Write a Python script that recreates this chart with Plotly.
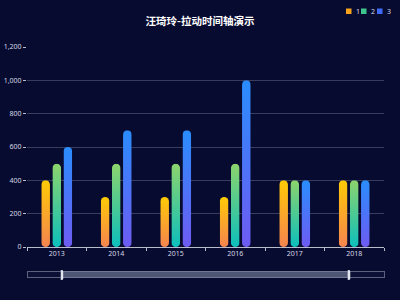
import plotly.graph_objects as go

categories = ["2013", "2014", "2015", "2016", "2017", "2018"]
series_names = ["1", "2", "3"]
s1 = [400, 300, 300, 300, 400, 400]
s2 = [500, 500, 500, 500, 400, 400]
s3 = [600, 700, 700, 1000, 400, 400]
y_ticks = [0, 200, 400, 600, 800, 1000, 1200]

legend_colors = ["#F7A21B", "#3EC58E", "#3F6CF5"]
grad_colors = [["#FFCB05", "#F5844F"], ["#8CD46C", "#0DBFBC"], ["#2A8DFD", "#6E5BF2"]]

BG = "#080B30"
TXT = "#D6D9E6"

W, H = 400, 300
ML, MR, MT, MB = 27, 16, 47, 53
PW, PH = W - ML - MR, H - MT - MB

fig = go.Figure()
for name, vals, col in zip(series_names, [s1, s2, s3], legend_colors):
    fig.add_trace(go.Bar(x=categories, y=vals, name=name, showlegend=False,
                         marker=dict(color=col, line=dict(width=0)),
                         hoverinfo="skip"))

# compact legend (top-right)
leg_x0 = [346, 361, 377]
for i, (name, col) in enumerate(zip(series_names, legend_colors)):
    x0 = (leg_x0[i] - ML) / PW
    x1 = (leg_x0[i] + 5.5 - ML) / PW
    y0 = 1 + (MT - 14) / PH
    y1 = 1 + (MT - 8.5) / PH
    fig.add_shape(type="rect", xref="paper", yref="paper", x0=x0, x1=x1, y0=y0, y1=y1,
                  fillcolor=col, line=dict(width=0))
    fig.add_annotation(text=name, xref="paper", yref="paper", x=x1 + 2 / PW,
                       y=1 + (MT - 11.3) / PH, xanchor="left", yanchor="middle",
                       showarrow=False, font=dict(size=7, color=TXT))

fig.update_layout(
    width=W, height=H,
    paper_bgcolor=BG, plot_bgcolor=BG,
    margin=dict(l=ML, r=MR, t=MT, b=MB, autoexpand=False),
    bargap=0.44, bargroupgap=0.22,
    font=dict(family="Noto Sans, Noto Sans CJK SC, sans-serif", size=7, color=TXT),
    title=dict(text="<b>汪琦玲-拉动时间轴演示</b>", x=0.5, xanchor="center",
               y=0.93, yanchor="middle", yref="container",
               font=dict(size=10.5, color="#FFFFFF", family="Noto Sans CJK SC, sans-serif")),
    showlegend=False,
)
fig.update_xaxes(
    type="category", range=[-0.5, 5.5],
    showline=True, linecolor="#B8BCCB", linewidth=1,
    ticks="outside", tickson="boundaries", ticklen=3, tickcolor="#B8BCCB",
    showgrid=False, tickfont=dict(size=7, color=TXT),
    rangeslider=dict(visible=True, thickness=0.033, range=[-1.24, 6.26],
                     bgcolor="#0B1034", bordercolor="#5B627E", borderwidth=1),
)
fig.update_yaxes(
    range=[0, 1200], tickvals=y_ticks, tickformat=",d",
    showgrid=True, gridcolor="#383D5E", gridwidth=1,
    zeroline=False, showline=False,
    ticks="outside", ticklen=3, tickcolor="#B8BCCB",
    tickfont=dict(size=7, color=TXT),
)

grads_js = str(grad_colors).replace("'", '"')
post = """
var gd = document.getElementById('{plot_id}');
var GR = %s;
(function(){
  var NS='http://www.w3.org/2000/svg';
  var hs = document.createElementNS(NS,'svg');
  hs.setAttribute('width','0'); hs.setAttribute('height','0');
  hs.style.position='absolute'; hs.style.left='0'; hs.style.top='0';
  var defs = document.createElementNS(NS,'defs');
  var css = '';
  GR.forEach(function(g,i){
    var lg=document.createElementNS(NS,'linearGradient');
    lg.setAttribute('id','bgrad'+i);
    lg.setAttribute('x1','0');lg.setAttribute('y1','0');
    lg.setAttribute('x2','0');lg.setAttribute('y2','1');
    var s1=document.createElementNS(NS,'stop');s1.setAttribute('offset','0');s1.setAttribute('stop-color',g[0]);
    var s2=document.createElementNS(NS,'stop');s2.setAttribute('offset','1');s2.setAttribute('stop-color',g[1]);
    lg.appendChild(s1);lg.appendChild(s2);defs.appendChild(lg);
    css += '.cartesianlayer .barlayer .trace:nth-child('+(i+1)+') path{fill:url(#bgrad'+i+') !important;}';
  });
  hs.appendChild(defs);
  document.body.appendChild(hs);
  css += '.cartesianlayer .barlayer .trace path{clip-path:inset(0 round 4.5px);}';
  css += '.rangeslider-rangeplot{display:none !important;}';
  css += '[class*="rangeslider-mask"]{fill:rgba(0,0,0,0) !important;}';
  css += '.rangeslider-slidebox{fill:#4E5676 !important;fill-opacity:1 !important;stroke:#8A90A8 !important;stroke-width:0.6px !important;}';
  css += '.rangeslider-handle-min,.rangeslider-handle-max{x:1px !important;width:2.5px !important;y:-1.5px !important;height:10px !important;fill:#E2E5EE !important;stroke:#9AA0B5 !important;stroke-width:0.4px !important;}';
  var st=document.createElement('style'); st.textContent=css; document.head.appendChild(st);
})();
function shiftSlider(){
  var rs = gd.querySelector('.rangeslider-container');
  if(!rs) return;
  var tr = rs.getAttribute('transform') || '';
  if(tr === rs.__mine) return;
  var m = tr.match(/translate\\(([-\\d.]+)[ ,]+([-\\d.]+)\\)/);
  if(m){
    var nt = 'translate('+m[1]+','+(parseFloat(m[2])-2)+')';
    rs.setAttribute('transform', nt); rs.__mine = nt;
  }
}
shiftSlider();
gd.on('plotly_afterplot', shiftSlider);
[50,200,600,1500].forEach(function(t){ setTimeout(shiftSlider, t); });
""" % grads_js

fig.write_html("out.html", post_script=post)
